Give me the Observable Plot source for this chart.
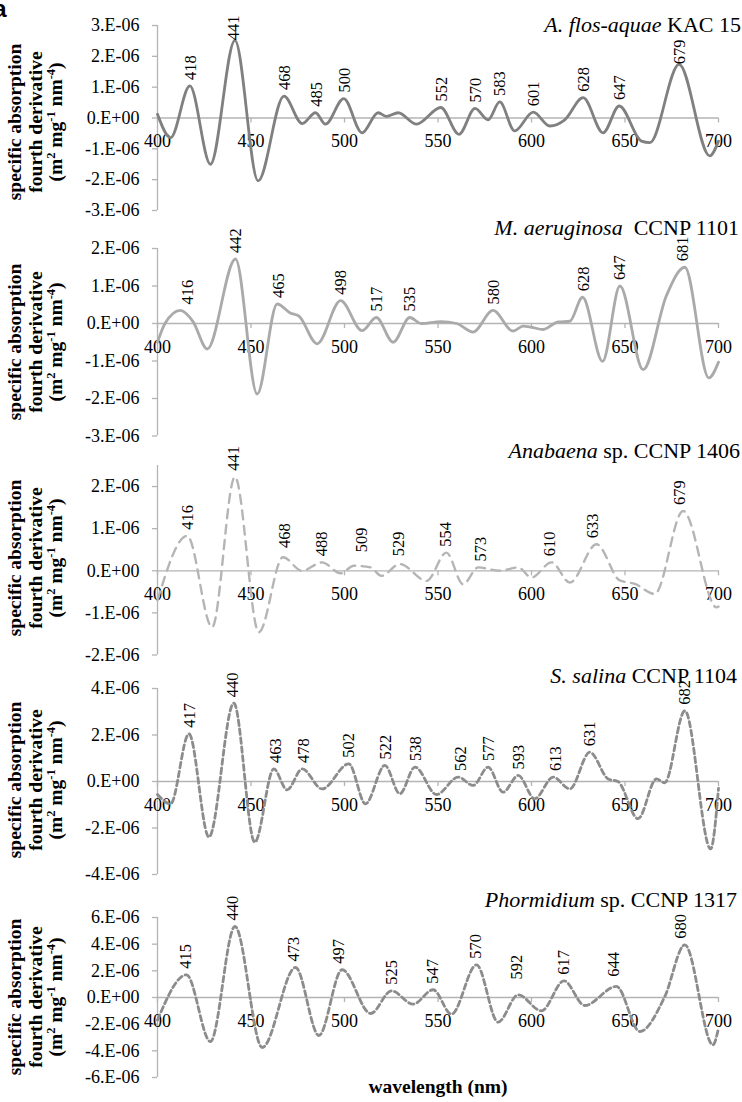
<!DOCTYPE html>
<html><head><meta charset="utf-8">
<script src="https://cdn.jsdelivr.net/npm/d3@7"></script>
<script src="https://cdn.jsdelivr.net/npm/@observablehq/plot@0.6"></script>
<style>
html,body{margin:0;padding:0;background:#fff;}
#chart{position:relative;width:742px;height:1102px;overflow:hidden;}
#chart svg{position:absolute;left:0;overflow:visible;}
</style></head><body><div id="chart"></div>
<script>
// values in units of 1e-6 m2 mg-1 nm-4
const UNIT = 1e-6;
const xTicks = [400, 450, 500, 550, 600, 650, 700];

// A. flos-aquae KAC 15
const wl1 = [400,407,417.3,428.3,441.4,453.8,467.6,477.4,484.5,489.8,499.6,509.4,518,522.5,528.7,538.5,551.5,561.2,569.8,576.8,583,591,600.9,609.8,617.8,627.6,638.3,646.9,658.8,663.3,678.9,695.3,700];
const val1 = [0.12,-0.64,1.04,-1.5,2.52,-2.04,0.71,-0.18,0.17,-0.2,0.63,-0.48,0.17,0.05,0.17,-0.2,0.34,-0.53,0.31,-0.06,0.52,-0.42,0.19,-0.26,-0.06,0.66,-0.48,0.39,-0.75,-0.8,1.74,-1.23,-0.75];
const peaks1 = [418,441,468,485,500,552,570,583,601,628,647,679];
const peakVals1 = [1.04,2.33,0.71,0.17,0.63,0.34,0.31,0.52,0.19,0.66,0.39,1.55];
const yTicks1 = [-3,-2,-1,0,1,2,3];

// M. aeruginosa CCNP 1101
const wl2 = [400,404,412.3,419,426.6,441.7,453.3,464,471,475.6,485.4,497.9,509.4,517,526,534.9,541,551.5,560,568.7,579.4,590.1,595.5,600,606.2,614.2,620.5,627.3,638,647.3,659.7,672.2,682,694.8,700];
const val2 = [-0.5,0,0.35,0.05,-0.68,1.72,-1.88,0.52,0.28,0.2,-0.54,0.61,-0.19,0.16,-0.5,0.16,0,0.05,0,-0.23,0.35,-0.2,-0.07,-0.1,-0.16,0.04,0.06,0.7,-1.01,1,-1.23,0.75,1.5,-1.45,-1.03];
const peaks2 = [416,442,465,498,517,535,580,628,647,681];
const peakVals2 = [0.35,1.72,0.52,0.61,0.16,0.16,0.35,0.7,1.0,1.5];
const yTicks2 = [-3,-2,-1,0,1,2];

// Anabaena sp. CCNP 1406
const wl3 = [400,415.9,429.2,441.4,454.2,467.1,477.3,488,497.9,505,514,519.7,529.6,543.9,554.5,563.4,571.5,583,592.9,600,610.7,620.5,634.8,647.2,655.3,665.9,681.1,699,700];
const val3 = [-0.7,0.83,-1.34,2.23,-1.46,0.32,0,0.2,-0.06,0.12,0.08,-0.12,0.16,-0.24,0.43,-0.32,0.08,0,0.08,-0.16,0.2,-0.28,0.63,-0.23,-0.31,-0.55,1.42,-0.87,-0.85];
const peaks3 = [416,441,468,488,509,529,554,573,610,633,679];
const peakVals3 = [0.83,2.23,0.4,0.2,0.3,0.2,0.43,0.08,0.2,0.63,1.42];
const yTicks3 = [-2,-1,0,1,2];

// S. salina CCNP 1104
const wl4 = [400,407,416.8,427.5,440.8,452,462.2,469.3,477.4,488,502.3,511.2,521.6,529.6,537.7,549.2,560.8,568.8,576.8,584.8,592.9,601.7,611.6,620.5,631.2,641,646.2,657,666.8,671.2,682,695.8,700];
const val4 = [-0.56,-0.96,2.05,-2.39,3.37,-2.61,0.54,-0.36,0.54,-0.32,0.76,-0.96,0.69,-0.53,0.62,-0.56,0.19,-0.17,0.62,-0.46,0.26,-0.74,0.19,-0.32,1.26,0.11,0,-1.6,0.11,-0.06,3.04,-2.9,-0.3];
const peaks4 = [417,440,463,478,502,522,538,562,577,593,613,631,682];
const peakVals4 = [2.05,3.37,0.54,0.54,0.76,0.69,0.62,0.19,0.62,0.26,0.19,1.26,3.04];
const yTicks4 = [-4,-2,0,2,4];

// Phormidium sp. CCNP 1317
const wl5 = [400,415.5,428.3,441.4,456,473.8,486.3,498.7,514,525.1,536.7,547.4,557.2,570.6,582.1,592.9,605.3,617.4,628.4,645.4,657.9,671.3,682,697,700];
const val5 = [-1.7,1.7,-3.3,5.33,-3.75,2.25,-2.85,2.08,-1.2,0.5,-0.5,0.58,-1.25,2.45,-1.85,0.2,-1.0,1.25,-0.6,0.83,-2.55,0.08,3.95,-3.55,-2.3];
const peaks5 = [415,440,473,497,525,547,570,592,617,644,680];
const peakVals5 = [1.7,5.33,2.25,2.08,0.5,0.58,2.45,0.9,1.25,1.1,3.95];
const yTicks5 = [-6,-4,-2,0,2,4,6];

const titles = [
  ["A. flos-aquae", " KAC 15"],
  ["M. aeruginosa", "  CCNP 1101"],
  ["Anabaena", " sp. CCNP 1406"],
  ["S. salina", " CCNP 1104"],
  ["Phormidium", " sp. CCNP 1317"]
];
const yLabelLines = ["specific absorption", "fourth derivative"];
const xLabel = "wavelength (nm)";
const panelLetter = "a";

const SERIF = "'Liberation Serif','Times New Roman',serif";
const AXIS = "#b4b4b4";

const layout = [
  {top: 25, bottom: 210, domain: [-3, 3], stroke: "#808080", dash: null, sw: 2.8, titleY: 31.5, titleX: 741, labelC: 122},
  {top: 248, bottom: 435.5, domain: [-3, 2], stroke: "#aaaaaa", dash: null, sw: 2.8, titleY: 235, titleX: 739, labelC: 342},
  {top: 465, bottom: 654.5, domain: [-2, 2.5], stroke: "#b5b5b5", dash: "9,6.5", sw: 2.4, titleY: 457.5, titleX: 740, labelC: 558},
  {top: 688, bottom: 874, domain: [-4, 4], stroke: "#8c8c8c", dash: "5.5,3.5", sw: 2.8, titleY: 682.5, titleX: 737, labelC: 780},
  {top: 917, bottom: 1077, domain: [-6, 6], stroke: "#8c8c8c", dash: "5.5,3.5", sw: 2.8, titleY: 906.5, titleX: 737, labelC: 997}
];
const series = [
  [wl1, val1, peaks1, peakVals1, yTicks1],
  [wl2, val2, peaks2, peakVals2, yTicks2],
  [wl3, val3, peaks3, peakVals3, yTicks3],
  [wl4, val4, peaks4, peakVals4, yTicks4],
  [wl5, val5, peaks5, peakVals5, yTicks5]
];

function fmt(d) {
  if (Math.abs(d) < 1e-15) return "0.E+00";
  const e = Math.floor(Math.log10(Math.abs(d)) + 1e-9);
  const m = Math.round(d / Math.pow(10, e));
  return `${m}.E${e < 0 ? "-" : "+"}${String(Math.abs(e)).padStart(2, "0")}`;
}

const W = 742, ML = 157, MR = 24, MT = 60, MB = 40;
const chart = document.getElementById("chart");

layout.forEach((p, i) => {
  const [wl, val, pk, pkv, yt] = series[i];
  const data = wl.map((w, j) => ({w, v: val[j] * UNIT}));
  const peaks = pk.map((w, j) => ({w, v: pkv[j] * UNIT}));
  const ticksY = yt.map(v => v * UNIT);
  const H = MT + (p.bottom - p.top) + MB;
  const svgTop = p.top - MT;
  const svg = Plot.plot({
    width: W, height: H,
    marginLeft: ML, marginRight: MR, marginTop: MT, marginBottom: MB,
    style: {background: "transparent", overflow: "visible", fontFamily: SERIF, fontSize: "18px", color: "#000"},
    x: {domain: [400, 700], axis: null},
    y: {domain: p.domain.map(v => v * UNIT), axis: null},
    marks: [
      Plot.ruleX([400], {stroke: AXIS, strokeWidth: 1.3}),
      Plot.ruleY(ticksY, {y: d => d, x1: () => 400, x2: () => 400, insetLeft: -5, stroke: AXIS, strokeWidth: 1.3}),
      Plot.ruleY([0], {stroke: AXIS, strokeWidth: 1.3}),
      Plot.ruleX(xTicks, {x: d => d, y1: () => 0, y2: () => 0, insetBottom: -5, stroke: AXIS, strokeWidth: 1.3}),
      Plot.text(ticksY, {x: () => 400, y: d => d, text: fmt, textAnchor: "end", dx: -18, fontSize: 18, fontFamily: SERIF, fill: "#000"}),
      Plot.text(xTicks, {x: d => d, y: () => 0, text: d => String(d), lineAnchor: "top", dy: 16.5, fontSize: 18, fontFamily: SERIF, fill: "#000"}),
      Plot.line(data, {x: "w", y: "v", curve: "monotone-x", stroke: p.stroke, strokeWidth: p.sw, strokeDasharray: p.dash}),
      Plot.text(peaks, {x: "w", y: "v", text: d => String(d.w), rotate: -90, textAnchor: "start", lineAnchor: "middle", dy: -6, fontSize: 16.5, fontFamily: SERIF, fill: "#000"})
    ]
  });
  svg.style.top = svgTop + "px";
  chart.appendChild(svg);
  const s = d3.select(svg);

  // title
  const t = s.append("text")
    .attr("x", p.titleX).attr("y", p.titleY - svgTop)
    .attr("text-anchor", "end").attr("font-size", 22).attr("font-family", SERIF)
    .attr("fill", "#000").style("white-space", "pre");
  t.append("tspan").attr("font-style", "italic").text(titles[i][0]);
  t.append("tspan").text(titles[i][1]);

  // y axis label (3 lines, rotated)
  const g = s.append("g").attr("transform", `translate(0,${p.labelC - svgTop})`)
    .attr("font-family", SERIF).attr("font-weight", "bold").attr("font-size", 19.5).attr("fill", "#000");
  const xs = [20.5, 41.5, 62];
  yLabelLines.forEach((line, k) => {
    g.append("text").attr("transform", `translate(${xs[k]},0) rotate(-90)`)
      .attr("text-anchor", "middle").text(line);
  });
  const l3 = g.append("text").attr("transform", `translate(${xs[2]},0) rotate(-90)`)
    .attr("text-anchor", "middle").style("white-space", "pre");
  const parts = [["(m", false], ["2", true], [" mg", false], ["-1", true], [" nm", false], ["-4", true], [")", false]];
  let sup = false;
  parts.forEach(([txt, isSup]) => {
    const ts = l3.append("tspan").text(txt);
    if (isSup) { ts.attr("font-size", 12.5).attr("dy", -7); sup = true; }
    else if (sup) { ts.attr("dy", 7); sup = false; }
  });

  if (i === 0) {
    s.append("text").attr("x", 0).attr("y", 17 - svgTop)
      .attr("font-family", "'Liberation Sans',Arial,sans-serif").attr("font-weight", "bold")
      .attr("font-size", 24).attr("fill", "#000").text(panelLetter);
  }
  if (i === layout.length - 1) {
    s.append("text").attr("x", 438).attr("y", 1093 - svgTop)
      .attr("text-anchor", "middle").attr("font-family", SERIF).attr("font-weight", "bold")
      .attr("font-size", 19.5).attr("fill", "#000").text(xLabel);
  }
});
</script></body></html>
